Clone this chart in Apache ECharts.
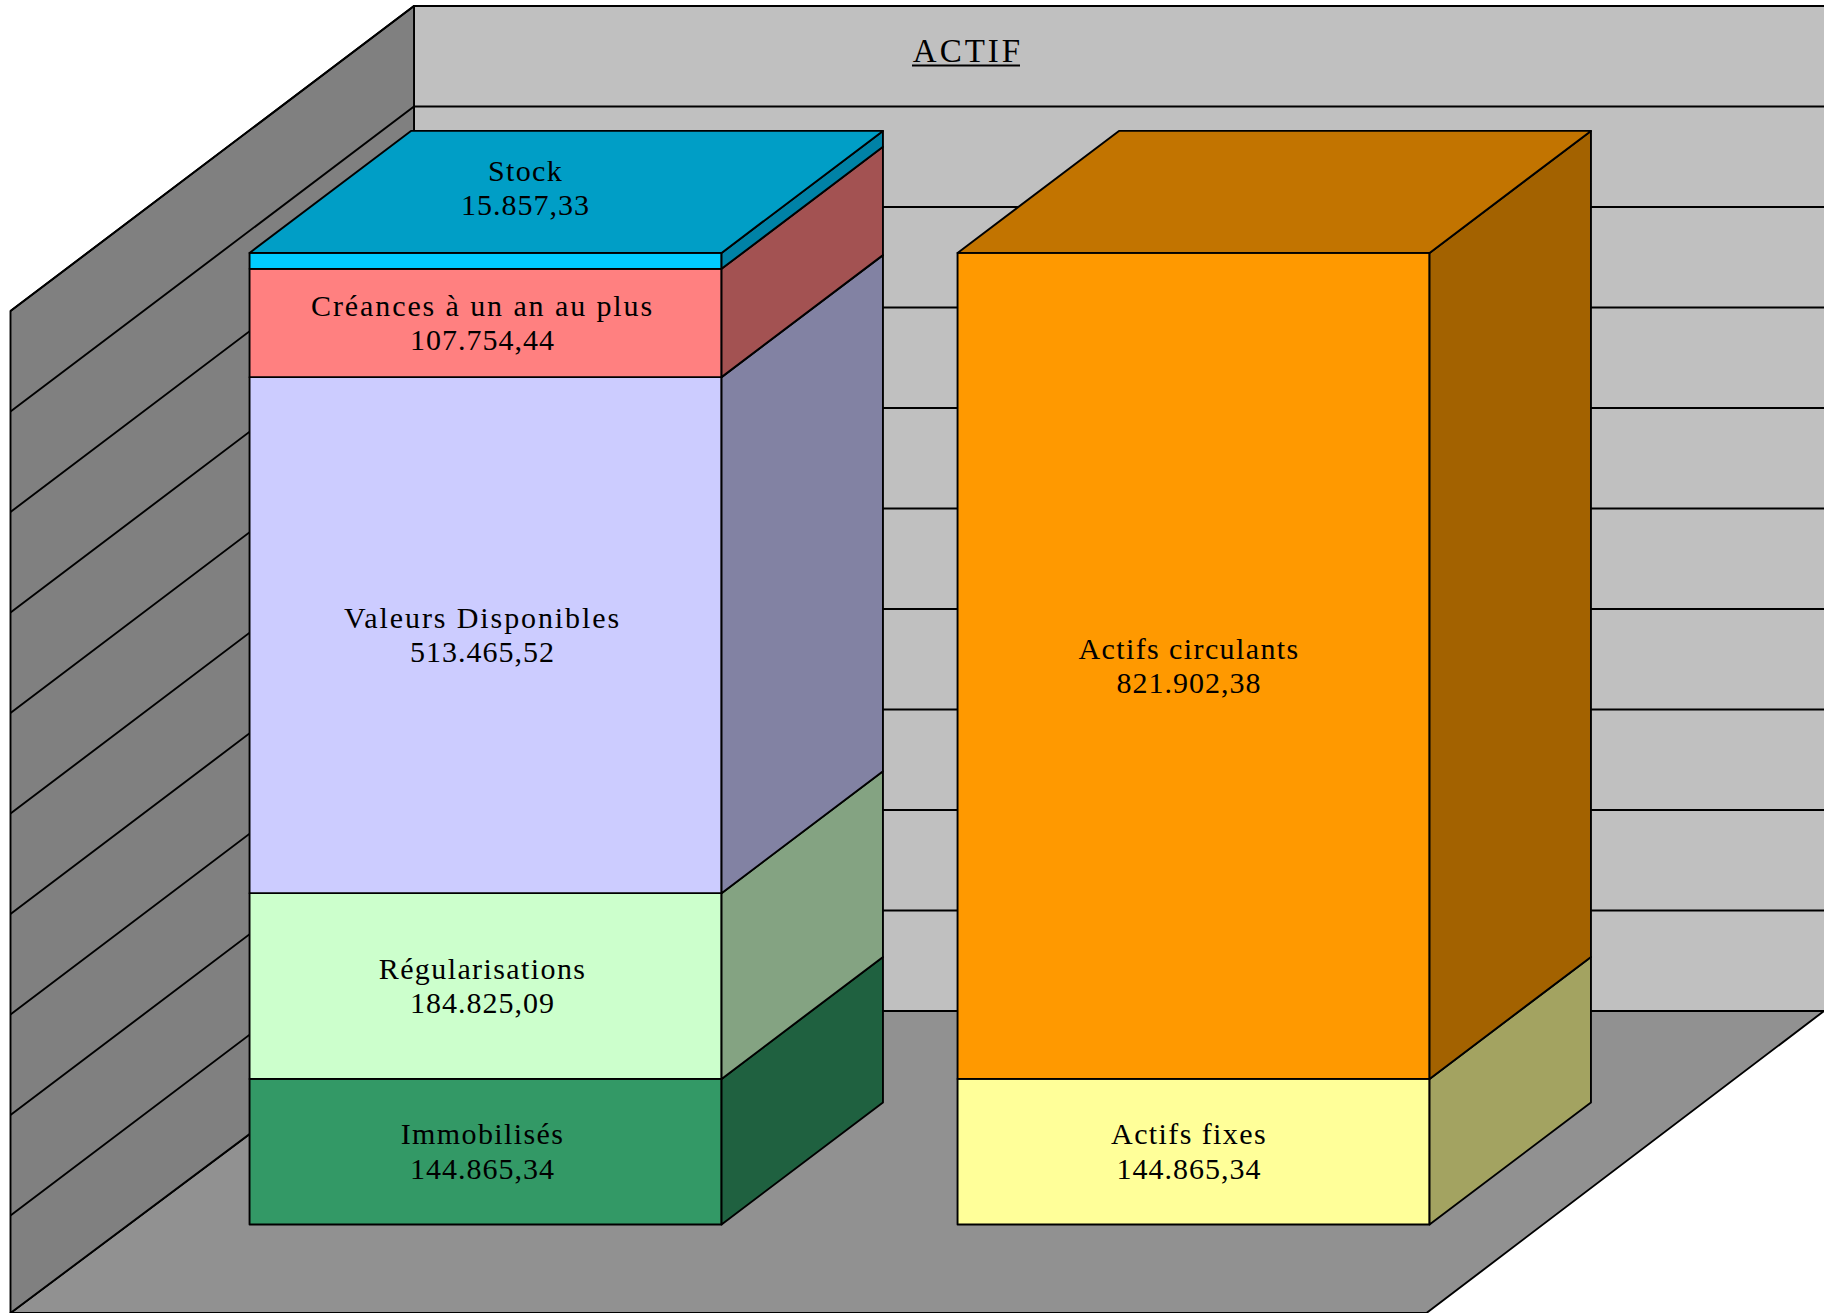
<!DOCTYPE html>
<html>
<head>
<meta charset="utf-8">
<title>ACTIF</title>
<script src="https://cdn.jsdelivr.net/npm/echarts@6/dist/echarts.min.js"></script>
<style>
  html, body { margin: 0; padding: 0; background: #fff; }
  /* the floor's front edge runs just past the bottom of the picture */
  #frame { width: 1824px; height: 1313px; overflow: hidden; }
  #chart { width: 1824px; height: 1330px; }
</style>
</head>
<body>
<div id="frame"><div id="chart"></div></div>
<script>
const chartTitle = 'ACTIF';
const categories = ['Détail', 'Synthèse'];
const yTicks = [0, 100000, 200000, 300000, 400000, 500000, 600000, 700000, 800000, 900000, 1000000];

// stacked bottom to top
const detailNames = ['Immobilisés', 'Régularisations', 'Valeurs Disponibles', 'Créances à un an au plus', 'Stock'];
const detailValues = [144865.34, 184825.09, 513465.52, 107754.44, 15857.33];
const summaryNames = ['Actifs fixes', 'Actifs circulants'];
const summaryValues = [144865.34, 821902.38];

const detailColors = [
  ['#339966', '#1F6140', '#1F6140'],
  ['#CCFFCC', '#84A382', '#84A382'],
  ['#CCCCFF', '#8282A3', '#8282A3'],
  ['#FF8080', '#A35252', '#A35252'],
  ['#00CCFF', '#0082A6', '#009EC6']
];
const summaryColors = [
  ['#FFFF99', '#A3A361', '#A3A361'],
  ['#FF9900', '#A36200', '#C27400']
];

const DEPTH_X = 403.5;
const DEPTH_Y = 305;
const BAR_NEAR = 0.3;
const BAR_FAR = 0.7;
const LINE = 1.9;
const FONT = '30px "Liberation Serif"';

function project(point, depth) {
  return [point[0] + DEPTH_X * depth, point[1] - DEPTH_Y * depth];
}

function face(points, fill) {
  return {
    type: 'polygon',
    shape: { points: points },
    style: { fill: fill, stroke: '#000', lineWidth: LINE, lineJoin: 'round' }
  };
}

function formatAmount(v) {
  const parts = v.toFixed(2).split('.');
  return parts[0].replace(/\B(?=(\d{3})+$)/g, '.') + ',' + parts[1];
}

function buildRows(catIndex, names, values, colors) {
  let base = 0;
  return values.map(function (v, i) {
    const row = {
      value: [catIndex, base, base + v],
      label: names[i] + '\n' + formatAmount(v),
      colors: colors[i],
      isTop: i === values.length - 1
    };
    base += v;
    return row;
  });
}

const rows = buildRows(0, detailNames, detailValues, detailColors)
  .concat(buildRows(1, summaryNames, summaryValues, summaryColors));

function renderWalls(params, api) {
  const rect = params.coordSys;
  const bottom = rect.y + rect.height;
  const right = rect.x + rect.width;
  const frontLeft = [rect.x, bottom - 3];
  const frontRight = [right, bottom - 3];
  const backLeft = project([rect.x, bottom], 1);
  const backRight = project([right, bottom], 1);
  const topBackLeft = project([rect.x, rect.y], 1);
  const topBackRight = project([right, rect.y], 1);
  return {
    type: 'group',
    children: [
      face([backLeft, [1824, backLeft[1]], frontRight, frontLeft], '#919191'),
      face([topBackLeft, topBackRight, backRight, backLeft], '#C0C0C0'),
      face([[rect.x, rect.y], topBackLeft, backLeft, frontLeft], '#808080')
    ]
  };
}

function renderGridLine(params, api) {
  const rect = params.coordSys;
  const y = api.coord([0, api.value(0)])[1];
  const front = [rect.x, y];
  return {
    type: 'polyline',
    shape: { points: [front, project(front, 1), project([rect.x + rect.width, y], 1)] },
    style: { stroke: '#000', lineWidth: LINE, fill: null }
  };
}

function renderBar(params, api) {
  const row = rows[params.dataIndex];
  const center = api.coord([api.value(0), 0])[0];
  const halfWidth = api.size([1, 0])[0] / 3;
  const yBase = api.coord([0, api.value(1)])[1];
  const yTop = api.coord([0, api.value(2)])[1];
  const near = function (x, y) { return project([x, y], BAR_NEAR); };
  const far = function (x, y) { return project([x, y], BAR_FAR); };
  const left = center - halfWidth;
  const right = center + halfWidth;
  const children = [
    face([near(left, yBase), near(right, yBase), near(right, yTop), near(left, yTop)], row.colors[0]),
    face([near(right, yBase), far(right, yBase), far(right, yTop), near(right, yTop)], row.colors[1])
  ];
  if (row.isTop) {
    children.push(face([near(left, yTop), near(right, yTop), far(right, yTop), far(left, yTop)], row.colors[2]));
  }
  let textPos = near(center, (yBase + yTop) / 2);
  textPos = [textPos[0] - (api.value(0) === 1 ? 4.5 : 3), textPos[1] - 0.5];
  // the thin top slice has its label up on the lid
  if (yBase - yTop < 40) {
    textPos = [textPos[0] + 43, textPos[1] - 73];
  }
  children.push({
    type: 'text',
    style: {
      text: row.label,
      x: textPos[0],
      y: textPos[1],
      align: 'center',
      verticalAlign: 'middle',
      font: FONT,
      lineHeight: 34.5,
      fill: '#000'
    }
  });
  return { type: 'group', children: children };
}

const chart = echarts.init(document.getElementById('chart'), null, { renderer: 'svg' });
chart.setOption({
  animation: false,
  backgroundColor: '#fff',
  title: {
    text: chartTitle,
    left: 963,
    top: 29,
    textAlign: 'center',
    textStyle: { fontFamily: 'Liberation Serif', fontSize: 33, fontWeight: 'normal', color: '#000' }
  },
  graphic: [{
    type: 'line',
    shape: { x1: 912, y1: 65.5, x2: 1020, y2: 65.5 },
    style: { stroke: '#000', lineWidth: 2 },
    z: 10
  }],
  grid: { left: 10.5, top: 311, width: 1416, height: 1005 },
  xAxis: { type: 'category', data: categories, show: false },
  yAxis: { type: 'value', min: 0, max: 1000000, interval: 100000, show: false },
  series: [
    {
      type: 'custom',
      name: 'walls',
      clip: false,
      silent: true,
      renderItem: renderWalls,
      data: [[0, 0]]
    },
    {
      type: 'custom',
      name: 'grid',
      clip: false,
      silent: true,
      renderItem: renderGridLine,
      encode: { y: 0 },
      data: yTicks.slice(1).map(function (t) { return [t]; })
    },
    {
      type: 'custom',
      name: 'bars',
      clip: false,
      renderItem: renderBar,
      dimensions: ['cat', 'base', 'top'],
      encode: { x: 0, y: 2 },
      data: rows.map(function (r) { return r.value; })
    }
  ]
});

// the original labels are widely tracked: long names more than short ones, the title most
document.querySelectorAll('#chart text').forEach(function (t) {
  const content = t.textContent.trim();
  let spacing = content.length >= 19 ? '1.9px' : '1.4px';
  if (/^\d/.test(content)) spacing = '1px';
  if (content === chartTitle) spacing = '3px';
  t.style.letterSpacing = spacing;
});
</script>
</body>
</html>
